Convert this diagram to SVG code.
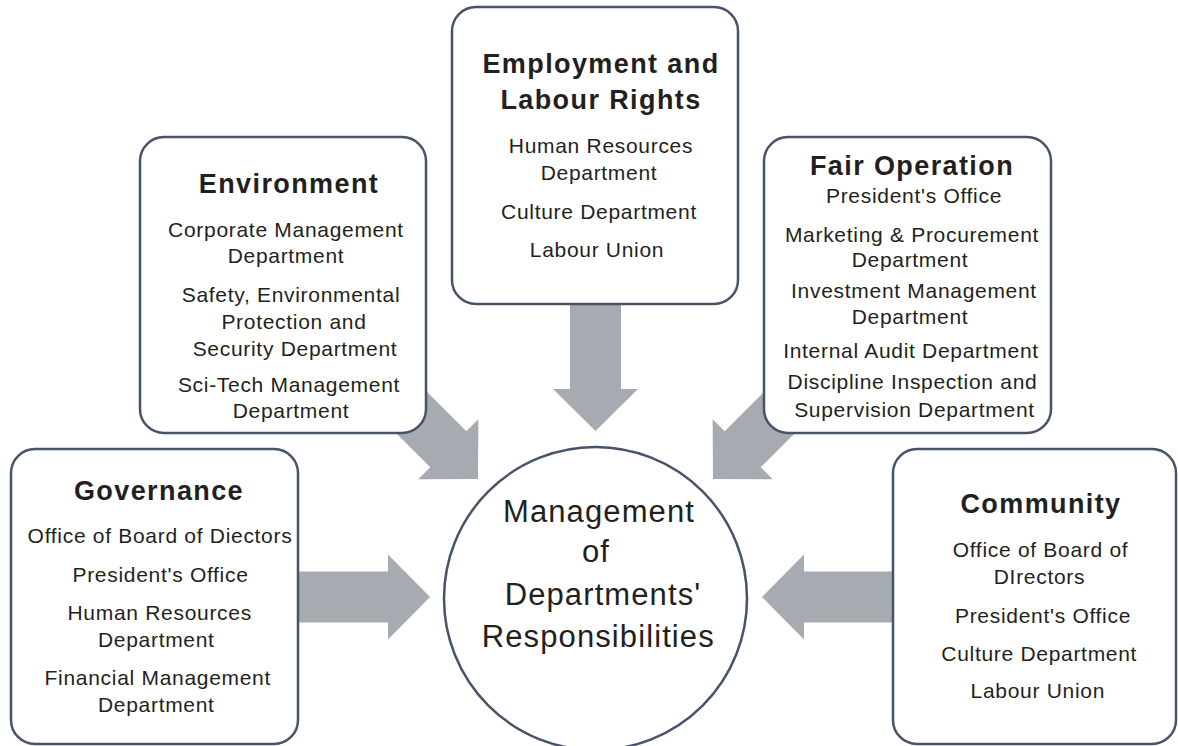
<svg xmlns="http://www.w3.org/2000/svg" xmlns:xlink="http://www.w3.org/1999/xlink" width="1178" height="746" viewBox="0 0 1178 746">
<style>
.box{fill:#ffffff;stroke:#475468;stroke-width:2.5}
.arrow{fill:#a6aab1}
.t{font-family:"Liberation Sans",Arial,Helvetica,sans-serif;font-weight:bold;font-size:27px;letter-spacing:1.4px;fill:#231f20;text-anchor:middle}
.b{font-family:"Liberation Sans",Arial,Helvetica,sans-serif;font-size:21px;letter-spacing:0.7px;fill:#231f20;text-anchor:middle}
.c{font-family:"Liberation Sans",Arial,Helvetica,sans-serif;font-size:31px;letter-spacing:1.1px;fill:#231f20;text-anchor:middle}
</style>
<defs>
<path id="arr" d="M-145,-25.5 H-42 V-42.5 L0,0 L-42,42.5 V25.5 H-145 Z"/>
</defs>
<rect width="1178" height="746" fill="#ffffff"/>
<g id="connectors" class="arrow">
<use xlink:href="#arr" href="#arr" transform="translate(595.5,431) rotate(90)"/>
<use xlink:href="#arr" href="#arr" transform="translate(478,479) rotate(45)"/>
<use xlink:href="#arr" href="#arr" transform="translate(713,479) rotate(135)"/>
<use xlink:href="#arr" href="#arr" transform="translate(430,597)"/>
<use xlink:href="#arr" href="#arr" transform="translate(762,597) rotate(180)"/>
</g>
<g id="employment">
<rect class="box" x="452" y="7" width="286" height="297" rx="24"/>
<text class="t" x="601" y="72.5">Employment and</text>
<text class="t" x="601" y="108.5">Labour Rights</text>
<text class="b" x="601" y="153">Human Resources</text>
<text class="b" x="599" y="180">Department</text>
<text class="b" x="599" y="219">Culture Department</text>
<text class="b" x="597" y="257">Labour Union</text>
</g>
<g id="environment">
<rect class="box" x="140" y="137" width="286" height="296" rx="24"/>
<text class="t" x="289" y="193">Environment</text>
<text class="b" x="286" y="236.5">Corporate Management</text>
<text class="b" x="286" y="263.3">Department</text>
<text class="b" x="291" y="301.7">Safety, Environmental</text>
<text class="b" x="294" y="329">Protection and</text>
<text class="b" x="295" y="356.3">Security Department</text>
<text class="b" x="289" y="391.7">Sci-Tech Management</text>
<text class="b" x="291" y="418.3">Department</text>
</g>
<g id="fair-operation">
<rect class="box" x="764" y="137" width="287" height="296" rx="24"/>
<text class="t" x="912" y="175">Fair Operation</text>
<text class="b" x="914" y="203.3">President's Office</text>
<text class="b" x="912" y="241.7">Marketing &amp; Procurement</text>
<text class="b" x="910" y="267.3">Department</text>
<text class="b" x="914" y="298.3">Investment Management</text>
<text class="b" x="910" y="324">Department</text>
<text class="b" x="911" y="358.3">Internal Audit Department</text>
<text class="b" x="912.5" y="389.3">Discipline Inspection and</text>
<text class="b" x="914.5" y="416.7">Supervision Department</text>
</g>
<g id="governance">
<rect class="box" x="11" y="449" width="287" height="295" rx="24"/>
<text class="t" x="159" y="500">Governance</text>
<text class="b" x="160" y="543.3">Office of Board of Diectors</text>
<text class="b" x="160.5" y="581.7">President's Office</text>
<text class="b" x="159.7" y="620">Human Resources</text>
<text class="b" x="156.3" y="646.7">Department</text>
<text class="b" x="157.8" y="685">Financial Management</text>
<text class="b" x="156.3" y="711.7">Department</text>
</g>
<g id="community">
<rect class="box" x="893" y="449" width="283" height="295" rx="24"/>
<text class="t" x="1041" y="513">Community</text>
<text class="b" x="1040.5" y="556.7">Office of Board of</text>
<text class="b" x="1039.5" y="584">DIrectors</text>
<text class="b" x="1043" y="623.3">President's Office</text>
<text class="b" x="1039.2" y="660.7">Culture Department</text>
<text class="b" x="1037.8" y="698.3">Labour Union</text>
</g>
<g id="center">
<circle class="box" cx="595.5" cy="598.5" r="151.5"/>
<text class="c" x="599" y="521.7">Management</text>
<text class="c" x="596" y="561.7">of</text>
<text class="c" x="603" y="605">Departments'</text>
<text class="c" x="598.3" y="646.7">Responsibilities</text>
</g>
</svg>
